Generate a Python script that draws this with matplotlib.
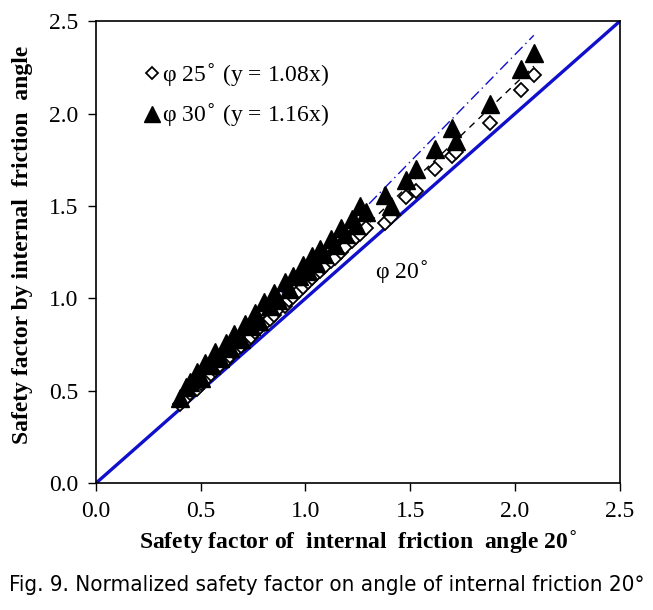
import matplotlib.pyplot as plt

# safety factors, internal friction angle 20 deg (x) vs 25 / 30 deg (y)
x20 = [0.40, 0.43, 0.45, 0.48, 0.50, 0.52, 0.55, 0.57, 0.59, 0.62, 0.64, 0.66,
       0.69, 0.71, 0.74, 0.76, 0.78, 0.80, 0.83, 0.85, 0.87, 0.90, 0.92, 0.94,
       0.97, 0.99, 1.01, 1.03, 1.05, 1.07, 1.09, 1.12, 1.14, 1.17, 1.19, 1.22,
       1.24, 1.26, 1.29, 1.38, 1.41, 1.48, 1.53, 1.62, 1.70, 1.72, 1.88, 2.03, 2.09]
y25 = [0.43, 0.46, 0.49, 0.51, 0.54, 0.56, 0.59, 0.61, 0.64, 0.66, 0.69, 0.71,
       0.74, 0.76, 0.79, 0.82, 0.84, 0.86, 0.89, 0.91, 0.94, 0.96, 0.99, 1.01,
       1.04, 1.06, 1.09, 1.11, 1.13, 1.15, 1.17, 1.20, 1.22, 1.25, 1.28, 1.31,
       1.33, 1.35, 1.38, 1.41, 1.44, 1.55, 1.58, 1.70, 1.77, 1.79, 1.95, 2.13, 2.21]
y30 = [0.46, 0.52, 0.55, 0.60, 0.57, 0.65, 0.64, 0.71, 0.68, 0.76, 0.73, 0.81,
       0.78, 0.86, 0.85, 0.92, 0.88, 0.98, 0.96, 1.03, 0.99, 1.09, 1.05, 1.12,
       1.12, 1.18, 1.15, 1.23, 1.19, 1.27, 1.24, 1.32, 1.29, 1.38, 1.35, 1.43,
       1.40, 1.50, 1.47, 1.56, 1.50, 1.64, 1.70, 1.81, 1.92, 1.85, 2.05, 2.24, 2.33]
ticks = [0.0, 0.5, 1.0, 1.5, 2.0, 2.5]
fit_x = [0.40, 2.09]
k25 = 1.08
k30 = 1.16

serif = 'Liberation Serif'
blue = '#1010CC'

fig = plt.figure(figsize=(6.53, 6.10), dpi=100)
ax = fig.add_axes([0.147, 0.208, 0.802, 0.757])

ax.plot([0, 2.5], [0, 2.5], color=blue, lw=2.4, zorder=2)
ax.plot(fit_x, [k30 * v for v in fit_x], color=blue, lw=1.0, ls=(0, (8, 3, 1, 3)), zorder=2)
ax.plot(fit_x, [k25 * v for v in fit_x], color='black', lw=1.0, ls=(0, (5, 4)), zorder=2)

ax.plot(x20, y25, ls='none', marker='D', ms=7, mfc='white', mec='black', mew=1.3, zorder=3)
ax.plot(x20, y30, ls='none', marker='^', ms=13, mfc='black', mec='black', zorder=4)

# legend drawn as text with markers
ax.plot([0.267], [2.22], marker='D', ms=6.5, mfc='white', mec='black', mew=1.3,
        ls='none', clip_on=False)
ax.plot([0.267], [2.0], marker='^', ms=11, color='black', ls='none', clip_on=False)
ax.text(0.315, 2.21, 'φ 25$^{\\circ}$ (y = 1.08x)', fontsize=17, family=serif, va='center')
ax.text(0.315, 1.99, 'φ 30$^{\\circ}$ (y = 1.16x)', fontsize=17, family=serif, va='center')
ax.text(1.33, 1.14, 'φ 20$^{\\circ}$', fontsize=17, family=serif, va='center')

ax.set_xlim(0, 2.5)
ax.set_ylim(0, 2.5)
ax.set_xticks(ticks)
ax.set_yticks(ticks)
ax.set_xticklabels(['%.1f' % t for t in ticks], family=serif, fontsize=17)
ax.set_yticklabels(['%.1f' % t for t in ticks], family=serif, fontsize=17)
ax.tick_params(direction='out', length=6, width=1, pad=7)
for s in ax.spines.values():
    s.set_linewidth(1.2)

ax.set_xlabel('Safety factor of  internal  friction  angle 20$^{\\circ}$',
              family=serif, fontsize=17, fontweight='bold', labelpad=5)
ax.set_ylabel('Safety factor by internal  friction  angle',
              family=serif, fontsize=17, fontweight='bold')
ax.yaxis.set_label_coords(-0.12, 0.515)

fig.text(0.5, 0.041, 'Fig. 9. Normalized safety factor on angle of internal friction 20°',
         ha='center', va='center', fontsize=16, family='DejaVu Sans', fontstretch='condensed')

fig.savefig('out.png', dpi=100)
